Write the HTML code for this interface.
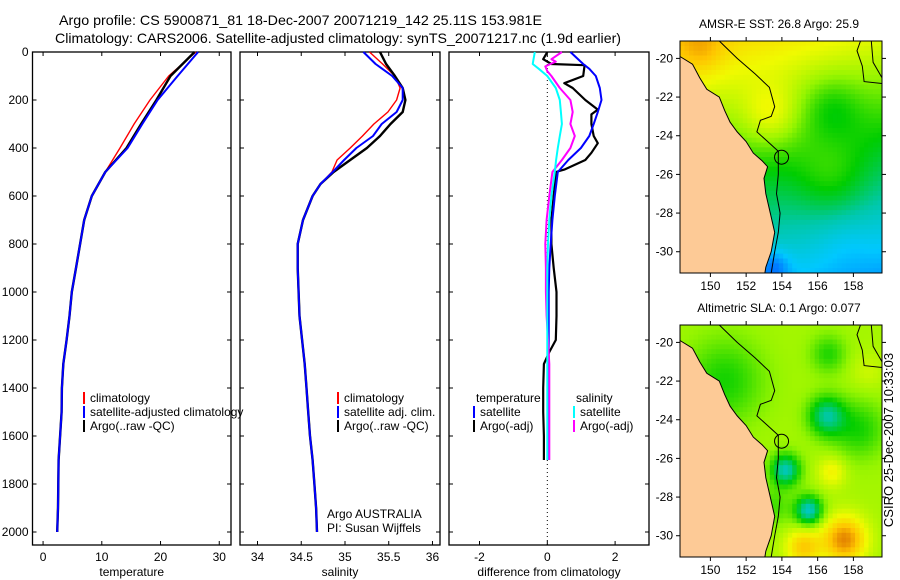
<!DOCTYPE html>
<html><head><meta charset="utf-8"><style>
html,body{margin:0;padding:0;background:#fff;}
svg{display:block;font-family:"Liberation Sans",sans-serif;}
</style></head><body>
<svg id="fig" width="900" height="580" viewBox="0 0 900 580" xmlns="http://www.w3.org/2000/svg">
<text x="59" y="25" font-size="14" textLength="483" lengthAdjust="spacingAndGlyphs">Argo profile: CS 5900871_81 18-Dec-2007 20071219_142 25.11S 153.981E</text>
<text x="55" y="43" font-size="14" textLength="566" lengthAdjust="spacingAndGlyphs">Climatology: CARS2006. Satellite-adjusted climatology: synTS_20071217.nc (1.9d earlier)</text>
<g id="panels"></g>
<g id="maps"></g>
<text transform="translate(893,440) rotate(-90)" text-anchor="middle" font-size="13">CSIRO 25-Dec-2007 10:33:03</text>
</svg>
<script>
// ---------- profile data ----------
const depthT = [0,100,200,300,400,500,600,700,800,900,1000,1100,1200,1300,1400,1500,1600,1700,1800,1900,2000];
const tempClim = [26.0,21.4,18.2,15.5,13.1,10.6,8.3,7.0,6.3,5.6,4.9,4.5,4.0,3.45,3.2,3.15,2.9,2.65,2.6,2.55,2.4];
const tempSat  = [26.4,22.9,19.5,16.9,14.4,10.6,8.3,7.0,6.3,5.6,4.9,4.5,4.0,3.45,3.2,3.15,2.9,2.65,2.6,2.55,2.4];
const tempArgo = [25.8,21.7,19.3,16.7,14.2,10.6,8.3,7.0,6.3,5.6,4.9,4.5,4.0,3.45,3.2,3.15,2.9,2.65,2.6,2.55,2.4];

const depthS = [0,50,100,150,200,250,300,350,400,450,500,550,600,700,800,900,1000,1100,1200,1300,1400,1500,1600,1700,1800,1900,2000];
const salClim = [35.28,35.43,35.57,35.63,35.59,35.49,35.33,35.20,35.06,34.91,34.85,34.72,34.63,34.52,34.46,34.46,34.47,34.48,34.51,34.54,34.56,34.58,34.60,34.63,34.65,34.67,34.68];
const salSat  = [35.21,35.35,35.54,35.66,35.66,35.59,35.42,35.32,35.13,34.99,34.86,34.72,34.63,34.52,34.46,34.46,34.47,34.48,34.51,34.54,34.56,34.58,34.60,34.63,34.65,34.67,34.68];
const salArgo = [35.40,35.47,35.57,35.66,35.69,35.66,35.52,35.40,35.25,35.06,34.87,34.72,34.63,34.52,34.46,34.46,34.47,34.48,34.51,34.54,34.56,34.58,34.60,34.63,34.65,34.67,34.68];

const depthD1 = [0,50,70,100,150,200,250,300,350,400,450,500,600,700,800,900,1000,1100,1200,1300,1400,1500,1600,1700];
const diffTempSat = [0.68,1.06,1.24,1.43,1.55,1.6,1.49,1.37,1.24,0.99,0.62,0.31,0.22,0.15,0.1,0.06,0.04,0.04,0.04,0.04,0.04,0.04,0.04,0.04];
const diffSalSat  = [-0.37,-0.43,-0.25,0,0.25,0.37,0.40,0.43,0.37,0.31,0.26,0.22,0.12,0.06,0.02,0,0,0,0,0,0,0,0,0];
const depthD2 = [0,30,50,55,100,130,150,200,240,260,300,350,380,420,450,490,500,600,700,800,900,1000,1100,1200,1250,1300,1400,1500,1600,1700];
const diffTempArgo = [0,-0.12,0.12,1.1,1.06,0.5,0.75,1.12,1.49,1.3,1.3,1.37,1.49,1.3,1.12,0.5,0.25,0.19,0.12,0.12,0.19,0.27,0.27,0.25,0.06,-0.1,-0.12,-0.12,-0.1,-0.1];
const depthD3 = [0,30,40,60,80,100,150,200,250,300,350,400,450,500,600,700,800,900,1000,1100,1200,1300,1400,1500,1600,1700];
const diffSalArgo = [0.43,0.12,0.25,-0.06,0,0.12,0.37,0.68,0.75,0.68,0.81,0.68,0.43,0.15,0.06,-0.02,-0.06,-0.04,-0.04,-0.02,0.02,0.06,0.06,0.06,0.06,0.06];

const yTicks = [0,200,400,600,800,1000,1200,1400,1600,1800,2000];
const tTicks = [0,10,20,30];
const sTicks = [34,34.5,35,35.5,36];
const sTickLabels = ["34","34.5","35","35.5","36"];
const dTicks = [-2,0,2];

const NS = "http://www.w3.org/2000/svg";
function mk(tag, attrs, parent){const e=document.createElementNS(NS,tag);for(const k in attrs)e.setAttribute(k,attrs[k]);parent.appendChild(e);return e;}
const yOf = d => 52 + d*0.24;
const panels = document.getElementById('panels');

function panel(name, x0, x1, xmin, xmax, ticks, labels, xlabel, showY){
  const g = mk('g',{},panels);
  
  
  const xs = v => x0 + (v - xmin)/(xmax - xmin)*(x1 - x0);
  const box = mk('rect',{x:x0,y:52,width:x1-x0,height:493,fill:'none',stroke:'#000','stroke-width':1.3},g);
  
  
  ticks.forEach((t,i)=>{
    const X = xs(t);
    mk('line',{x1:X,x2:X,y1:545,y2:541,stroke:'#000'},g);
    mk('line',{x1:X,x2:X,y1:52,y2:56,stroke:'#000'},g);
    const tl = mk('text',{x:X,y:561,'text-anchor':'middle','font-size':12},g);
    tl.textContent = labels[i];
    
    
  });
  yTicks.forEach(d=>{
    const Y = yOf(d);
    mk('line',{x1:x0,x2:x0+4,y1:Y,y2:Y,stroke:'#000'},g);
    mk('line',{x1:x1,x2:x1-4,y1:Y,y2:Y,stroke:'#000'},g);
    if(showY){
      const tl = mk('text',{x:x0-4,y:Y+4,'text-anchor':'end','font-size':12},g);
      tl.textContent = d;
      
      
    }
  });
  const xl = mk('text',{x:(x0+x1)/2,y:576,'text-anchor':'middle','font-size':12},g);
  xl.textContent = xlabel;
  
  
  return {g, xs};
}
function line(p, depths, vals, color, w, name){
  const pts = depths.map((d,i)=>p.xs(vals[i]).toFixed(1)+','+yOf(d).toFixed(1)).join(' ');
  const l = mk('polyline',{points:pts,fill:'none',stroke:color,'stroke-width':w,'stroke-linejoin':'round'},p.g);
  
  
}
function legend(p, x, y, items){
  items.forEach((it,i)=>{
    const Y = y + i*14;
    if(it[1]) mk('line',{x1:x,x2:x,y1:Y-10,y2:Y+2,stroke:it[1],'stroke-width':2},p.g);
    const t = mk('text',{x:x+(it[1]?6:2),y:Y,'font-size':12},p.g);
    t.textContent = it[0];
    
    
  });
}

const p1 = panel('temperature-panel',32.5,231,-1.8,32,tTicks,tTicks.map(String),'temperature',true);
line(p1, depthT, tempClim, '#ff0000', 1.4, 'temperature-climatology-line');
line(p1, depthT, tempArgo, '#000', 2.4, 'temperature-argo-line');
line(p1, depthT, tempSat, '#0000ff', 2, 'temperature-satellite-line');
legend(p1, 84, 402, [['climatology','#ff0000'],['satellite-adjusted climatology','#0000ff'],['Argo(..raw -QC)','#000']]);

const p2 = panel('salinity-panel',240,440,33.8,36.086,sTicks,sTickLabels,'salinity',false);
line(p2, depthS, salClim, '#ff0000', 1.4, 'salinity-climatology-line');
line(p2, depthS, salArgo, '#000', 2.4, 'salinity-argo-line');
line(p2, depthS, salSat, '#0000ff', 2, 'salinity-satellite-line');
legend(p2, 338, 402, [['climatology','#ff0000'],['satellite adj. clim.','#0000ff'],['Argo(..raw -QC)','#000']]);
const au = mk('text',{x:327,y:518,'font-size':12},p2.g); au.textContent='Argo AUSTRALIA';


const pi = mk('text',{x:327,y:532,'font-size':12},p2.g); pi.textContent='PI: Susan Wijffels';



const p3 = panel('difference-panel',449,649,-2.9,3.0,dTicks,dTicks.map(String),'difference from climatology',false);
mk('line',{x1:p3.xs(0),x2:p3.xs(0),y1:yOf(0),y2:545,stroke:'#000','stroke-dasharray':'1,3'},p3.g);
line(p3, depthD2, diffTempArgo, '#000', 2.2, 'diff-temperature-argo-line');
line(p3, depthD1, diffTempSat, '#0000ff', 2, 'diff-temperature-satellite-line');
line(p3, depthD3, diffSalArgo, '#ff00ff', 2, 'diff-salinity-argo-line');
line(p3, depthD1, diffSalSat, '#00ffff', 2, 'diff-salinity-satellite-line');
legend(p3, 474, 402, [['temperature',null],['satellite','#0000ff'],['Argo(-adj)','#000']]);
legend(p3, 574, 402, [['salinity',null],['satellite','#00ffff'],['Argo(-adj)','#ff00ff']]);

// ---------- maps ----------
const lonTicks=[150,152,154,156,158];
const latTicks=[-20,-22,-24,-26,-28,-30];
const coast=[[148.3,-19.9],[149.0,-20.3],[149.4,-21.0],[149.8,-21.6],[150.5,-22.0],[150.8,-22.7],[151.1,-23.3],[151.5,-23.8],[152.0,-24.3],[152.4,-24.9],[152.9,-25.3],[153.2,-25.6],[153.0,-26.2],[153.1,-27.0],[153.35,-28.0],[153.6,-29.0],[153.4,-30.0],[153.1,-30.8],[153.05,-31.1],[148.3,-31.1]];
const contour1=[[150.5,-19.1],[151.5,-20.0],[152.5,-20.8],[153.3,-21.5],[153.6,-22.5],[153.4,-23.0],[152.8,-23.2],[152.6,-23.8],[153.2,-24.3],[153.8,-24.8],[153.8,-26.0],[153.7,-27.0],[153.9,-28.0],[153.8,-29.0],[153.6,-30.0],[153.4,-31.1]];
const contour2=[[158.4,-19.1],[158.2,-19.6],[158.5,-20.4],[158.6,-21.2],[159.6,-21.3]];
const contour3=[[159.0,-19.1],[159.1,-20.2],[159.6,-21.0]];
// blobs: lon, lat, radius(deg), amplitude
const sstBlobs=[[153.4,-23.0,1.6,0.13],[153.5,-30.8,0.9,-0.15],[156.8,-26.3,2.0,0.1],[156.8,-22.5,1.6,-0.1],[149.5,-19.6,1.2,0.08],[157.5,-29.5,1.5,-0.03]];
const slaBlobs=[[154.2,-26.6,0.8,-0.33],[155.5,-28.7,0.75,-0.35],[156.5,-23.8,1.0,-0.28],[158.3,-24.5,1.5,-0.14],[157.5,-30.2,1.2,0.3],[155.2,-30.6,1.0,0.2],[156.8,-26.7,0.8,0.12],[150.8,-22.0,2.2,-0.14],[156.6,-20.6,1.0,-0.13],[158.8,-21.5,1.0,0.05],[153.5,-28.5,1.0,-0.1]];
const stops=[[0,[0,60,255]],[0.2,[0,200,255]],[0.33,[0,200,170]],[0.48,[0,205,0]],[0.62,[150,245,0]],[0.74,[240,250,0]],[0.86,[255,195,0]],[1,[210,90,0]]];
function cmap(v){v=Math.max(0,Math.min(1,v));for(let i=1;i<stops.length;i++){if(v<=stops[i][0]){const a=stops[i-1],b=stops[i],f=(v-a[0])/(b[0]-a[0]);return 'rgb('+a[1].map((c,k)=>Math.round(c+(b[1][k]-c)*f)).join(',')+')';}}return 'rgb(210,90,0)';}
function field(type,lon,lat){
  let v = type==='sst' ? 0.5+0.047*(lat+25)-0.012*(lon-154) : 0.64;
  (type==='sst'?sstBlobs:slaBlobs).forEach(b=>{const d2=((lon-b[0])**2+(lat-b[1])**2)/(b[2]*b[2]);v+=b[3]*Math.exp(-d2);});
  return v;
}
const maps=document.getElementById('maps');
function drawMap(name,top,title,type){
  const x0=680,x1=882,y0=top,y1=top+232,lon0=148.3,lon1=159.6,lat0=-19.1,lat1=-31.1;
  const mx=l=>x0+(l-lon0)/(lon1-lon0)*(x1-x0), my=l=>y0+(l-lat0)/(lat1-lat0)*(y1-y0);
  const g=mk('g',{},maps);
  
  
  const cw=(x1-x0)/45, ch=(y1-y0)/48;
  for(let i=0;i<45;i++)for(let j=0;j<48;j++){
    const lon=lon0+(i+0.5)*(lon1-lon0)/45, lat=lat0+(j+0.5)*(lat1-lat0)/48;
    mk('rect',{x:(x0+i*cw).toFixed(2),y:(y0+j*ch).toFixed(2),width:(cw+0.4).toFixed(2),height:(ch+0.4).toFixed(2),fill:cmap(field(type,lon,lat))},g);
  }
  const land=mk('polygon',{points:coast.map(p=>mx(p[0]).toFixed(1)+','+my(p[1]).toFixed(1)).join(' '),fill:'#fdca96',stroke:'#000','stroke-width':1},g);
  
  
  [contour1,contour2,contour3].forEach(c=>mk('polyline',{points:c.map(p=>mx(p[0]).toFixed(1)+','+my(p[1]).toFixed(1)).join(' '),fill:'none',stroke:'#000','stroke-width':1},g));
  const pos=mk('circle',{cx:mx(153.981),cy:my(-25.11),r:7,fill:'none',stroke:'#000','stroke-width':1},g);
  
  
  mk('rect',{x:x0,y:y0,width:x1-x0,height:y1-y0,fill:'none',stroke:'#000','stroke-width':1},g);
  lonTicks.forEach(l=>{const X=mx(l);mk('line',{x1:X,x2:X,y1:y1,y2:y1+4,stroke:'#000'},g);mk('line',{x1:X,x2:X,y1:y0,y2:y0-4,stroke:'#000'},g);
    const t=mk('text',{x:X,y:y1+17,'text-anchor':'middle','font-size':12},g);t.textContent=l;
    
    });
  latTicks.forEach(l=>{const Y=my(l);mk('line',{x1:x0,x2:x0-4,y1:Y,y2:Y,stroke:'#000'},g);mk('line',{x1:x1,x2:x1+4,y1:Y,y2:Y,stroke:'#000'},g);
    const t=mk('text',{x:x0-7,y:Y+4,'text-anchor':'end','font-size':12},g);t.textContent=l;
    
    });
  const tt=mk('text',{x:779,y:top-13,'text-anchor':'middle','font-size':12},g);tt.textContent=title;
  
  
}
drawMap('sst-map',41,'AMSR-E SST: 26.8 Argo: 25.9','sst');
drawMap('sla-map',325,'Altimetric SLA: 0.1 Argo: 0.077','sla');
</script>
</body></html>
